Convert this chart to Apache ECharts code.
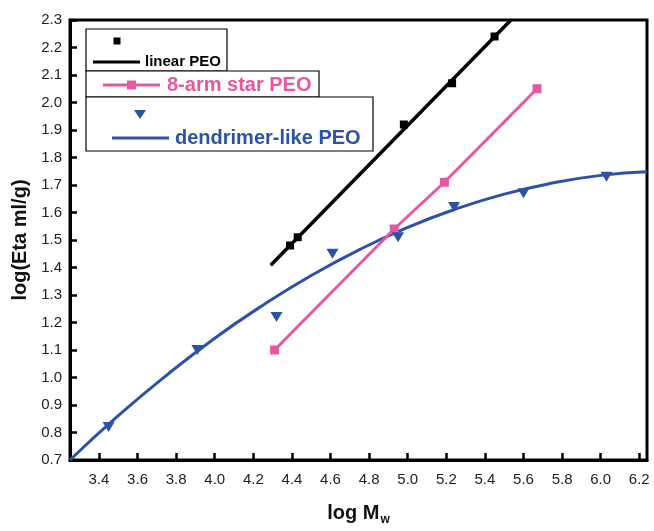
<!DOCTYPE html>
<html>
<head>
<meta charset="utf-8">
<script src="https://cdn.jsdelivr.net/npm/echarts@6/dist/echarts.min.js"></script>
<style>
html,body{margin:0;padding:0;background:#fff;}
#chart{width:654px;height:531px;}
</style>
</head>
<body>
<div id="chart"></div>
<script>
// ---- data ----
var xTicks = [3.4, 3.6, 3.8, 4.0, 4.2, 4.4, 4.6, 4.8, 5.0, 5.2, 5.4, 5.6, 5.8, 6.0, 6.2];
var yTicks = [0.7, 0.8, 0.9, 1.0, 1.1, 1.2, 1.3, 1.4, 1.5, 1.6, 1.7, 1.8, 1.9, 2.0, 2.1, 2.2, 2.3];

var linearX = [4.39, 4.43, 4.98, 5.23, 5.45];
var linearY = [1.48, 1.51, 1.92, 2.07, 2.24];
var linearFitX = [4.29, 5.535];
var linearFitY = [1.408, 2.30];

var starX = [4.31, 4.93, 5.19, 5.67];
var starY = [1.10, 1.54, 1.71, 2.05];

var dendX = [3.45, 3.91, 4.32, 4.61, 4.95, 5.24, 5.60, 6.03];
var dendY = [0.82, 1.10, 1.22, 1.45, 1.51, 1.62, 1.67, 1.73];
var dendFitX = [3.25, 3.50, 3.75, 4.00, 4.25, 4.50, 4.75, 5.00, 5.25, 5.50, 5.75, 6.00, 6.24];
var dendFitY = [0.700, 0.861, 1.008, 1.143, 1.263, 1.371, 1.465, 1.546, 1.613, 1.667, 1.707, 1.735, 1.748];

var colBlack = '#000000';
var colPink = '#e6589f';
var colBlue = '#2c52a8';

function pairs(xs, ys) { return xs.map(function (x, i) { return [x, ys[i]]; }); }

var chart = echarts.init(document.getElementById('chart'), null, {renderer: 'canvas'});
var font = 'Liberation Sans, Arial, sans-serif';

var option = {
  backgroundColor: '#fff',
  animation: false,
  grid: {left: 70, right: 7, top: 20, bottom: 66, show: true, borderColor: '#000', borderWidth: 3, backgroundColor: 'transparent'},
  xAxis: {
    type: 'value', min: 3.25, max: 6.24,
    name: '{a|log M}{s|w}', nameLocation: 'middle', nameGap: 40,
    nameTextStyle: {rich: {
      a: {fontFamily: font, fontWeight: 'bold', fontSize: 20, color: '#111'},
      s: {fontFamily: font, fontWeight: 'bold', fontSize: 12, color: '#111', padding: [14, 0, 0, 1]}
    }},
    axisLine: {show: true, onZero: false, lineStyle: {color: '#000', width: 3}},
    axisTick: {show: true, inside: true, length: 7, lineStyle: {color: '#000', width: 2.5}, customValues: xTicks},
    axisLabel: {customValues: xTicks, margin: 12, fontFamily: font, fontSize: 15, color: '#222', formatter: function (v) { return v.toFixed(1); }},
    splitLine: {show: false}
  },
  yAxis: {
    type: 'value', min: 0.7, max: 2.3,
    name: 'log(Eta ml/g)', nameLocation: 'middle', nameGap: 36,
    nameTextStyle: {fontFamily: font, fontWeight: 'bold', fontSize: 20, color: '#111'},
    axisLine: {show: true, onZero: false, lineStyle: {color: '#000', width: 3}},
    axisTick: {show: true, inside: true, length: 7, lineStyle: {color: '#000', width: 2.5}, customValues: yTicks},
    axisLabel: {customValues: yTicks, margin: 8, fontFamily: font, fontSize: 15, color: '#222', formatter: function (v) { return v.toFixed(1); }},
    splitLine: {show: false}
  },
  series: [
    {type: 'line', name: 'linear fit', data: pairs(linearFitX, linearFitY), showSymbol: false, symbol: 'none',
     lineStyle: {color: colBlack, width: 3.5}, z: 3},
    {type: 'scatter', name: 'linear PEO', data: pairs(linearX, linearY), symbol: 'rect', symbolSize: 8,
     itemStyle: {color: colBlack, opacity: 1}, z: 4},
    {type: 'line', name: '8-arm star PEO', data: pairs(starX, starY), symbol: 'rect', symbolSize: 9, showSymbol: true,
     lineStyle: {color: colPink, width: 3}, itemStyle: {color: colPink, opacity: 1}, z: 4},
    {type: 'line', name: 'dendrimer fit', data: pairs(dendFitX, dendFitY), smooth: true, symbol: 'none', showSymbol: false,
     lineStyle: {color: colBlue, width: 3}, z: 3},
    {type: 'scatter', name: 'dendrimer-like PEO', data: pairs(dendX, dendY), symbol: 'triangle', symbolRotate: 180, symbolSize: [12, 10],
     itemStyle: {color: colBlue, opacity: 1}, z: 5}
  ],
  graphic: [
    // box 1 : linear PEO
    {type: 'rect', shape: {x: 86, y: 29, width: 141, height: 42}, style: {fill: '#fff', stroke: '#000', lineWidth: 1.2}, z: 10},
    {type: 'rect', shape: {x: 113.5, y: 37.5, width: 7, height: 7}, style: {fill: colBlack}, z: 11},
    {type: 'line', shape: {x1: 93, y1: 62, x2: 140, y2: 62}, style: {stroke: colBlack, lineWidth: 3}, z: 11},
    {type: 'text', x: 145, y: 62, style: {text: 'linear PEO', fill: '#000', font: 'bold 15px ' + font, verticalAlign: 'middle'}, z: 11},
    // box 2 : 8-arm star PEO
    {type: 'rect', shape: {x: 86, y: 71, width: 233, height: 26}, style: {fill: '#fff', stroke: '#000', lineWidth: 1.2}, z: 10},
    {type: 'line', shape: {x1: 103, y1: 85, x2: 160, y2: 85}, style: {stroke: colPink, lineWidth: 3}, z: 11},
    {type: 'rect', shape: {x: 127, y: 80.5, width: 9, height: 9}, style: {fill: colPink}, z: 12},
    {type: 'text', x: 167, y: 85, style: {text: '8-arm star PEO', fill: colPink, font: 'bold 20px ' + font, verticalAlign: 'middle'}, z: 11},
    // box 3 : dendrimer-like PEO
    {type: 'rect', shape: {x: 86, y: 97, width: 287, height: 54}, style: {fill: '#fff', stroke: '#000', lineWidth: 1.2}, z: 10},
    {type: 'polygon', shape: {points: [[134, 110], [146, 110], [140, 119]]}, style: {fill: colBlue}, z: 11},
    {type: 'line', shape: {x1: 112, y1: 138, x2: 169, y2: 138}, style: {stroke: colBlue, lineWidth: 3}, z: 11},
    {type: 'text', x: 175, y: 138, style: {text: 'dendrimer-like PEO', fill: colBlue, font: 'bold 20px ' + font, verticalAlign: 'middle'}, z: 11}
  ]
};
chart.setOption(option);
</script>
</body>
</html>
